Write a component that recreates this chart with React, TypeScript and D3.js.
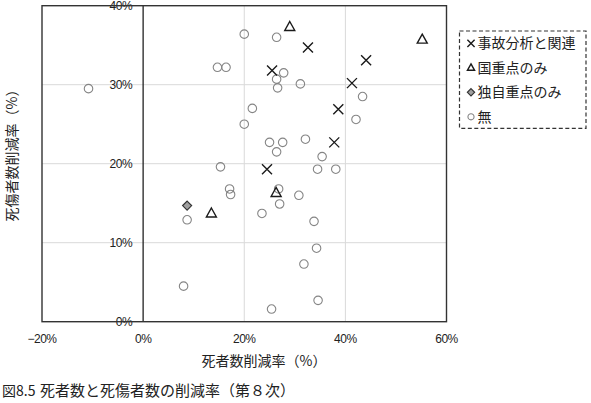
import React from 'react';
import * as d3 from 'd3';

// 死者数削減率 (x) と 死傷者数削減率 (y), %
const accidentPoints: [number, number][] = [
  [32.6, 34.7], [25.5, 31.8], [24.5, 19.3], [37.8, 22.7],
  [44.1, 33.1], [41.3, 30.2], [38.6, 26.9]
];
const nationalPoints: [number, number][] = [
  [29.0, 37.3], [55.2, 35.7], [26.3, 16.3], [13.5, 13.7]
];
const ownPoints: [number, number][] = [[8.7, 14.7]];
const nonePoints: [number, number][] = [
  [-10.8, 29.5], [20.0, 36.4], [26.4, 36.0], [14.7, 32.2], [16.4, 32.2],
  [27.8, 31.5], [26.4, 30.7], [26.6, 29.6], [31.1, 30.1], [21.6, 27.0],
  [20.0, 25.0], [25.0, 22.7], [27.6, 22.7], [26.4, 21.5], [32.1, 23.1],
  [35.4, 20.9], [34.5, 19.3], [38.1, 19.3], [43.4, 28.5], [42.1, 25.6],
  [15.3, 19.6], [17.1, 16.8], [17.3, 16.1], [26.8, 16.8], [27.0, 14.9],
  [30.8, 16.0], [23.5, 13.7], [33.8, 12.7], [34.3, 9.3], [31.8, 7.3],
  [34.6, 2.7], [25.4, 1.6], [8.0, 4.5], [8.7, 12.9]
];
const seriesNames = ['事故分析と関連', '国重点のみ', '独自重点のみ', '無'];
const xTicks = [-20, 0, 20, 40, 60];
const yTicks = [0, 10, 20, 30, 40];

const JP = '"Noto Sans CJK JP", sans-serif';
const NUM = '"Liberation Sans", Arial, sans-serif';

const crossPath = (r: number) => `M${-r},${-r}L${r},${r}M${-r},${r}L${r},${-r}`;
const triPath = (r: number) => `M0,${-r * 1.1}L${r},${r * 0.7}L${-r},${r * 0.7}Z`;
const diamondPath = (r: number) => `M0,${-r}L${r},0L0,${r}L${-r},0Z`;

function Marker({ kind, r }: { kind: number; r: number }) {
  if (kind === 0) return <path d={crossPath(r)} fill="none" stroke="#1a1a1a" strokeWidth={1.4} />;
  if (kind === 1) return <path d={triPath(r)} fill="none" stroke="#1a1a1a" strokeWidth={1.4} />;
  if (kind === 2) return <path d={diamondPath(r)} fill="#a0a0a0" stroke="#333" strokeWidth={1.2} />;
  return <circle r={r * 0.85} fill="none" stroke="#858585" strokeWidth={1.1} />;
}

export default function App() {
  const width = 591, height = 403;
  const x = d3.scaleLinear().domain([-20, 60]).range([42, 446.5]);
  const y = d3.scaleLinear().domain([0, 40]).range([321.7, 5.7]);

  const series = [accidentPoints, nationalPoints, ownPoints, nonePoints];
  const drawOrder = [3, 2, 1, 0];

  return (
    <div style={{ position: 'absolute', left: 0, top: 0 }}>
      <svg width={width} height={height} style={{ display: 'block', background: '#fff' }}>
        {/* grid */}
        {xTicks.filter(t => t !== -20 && t !== 0 && t !== 60).map(t => (
          <line key={'gx' + t} x1={x(t)} x2={x(t)} y1={y(40)} y2={y(0)} stroke="#d9d9d9" strokeWidth={1} />
        ))}
        {yTicks.filter(t => t !== 0 && t !== 40).map(t => (
          <line key={'gy' + t} x1={x(-20)} x2={x(60)} y1={y(t)} y2={y(t)} stroke="#d9d9d9" strokeWidth={1} />
        ))}

        {/* y tick labels, beside the zero axis */}
        {yTicks.map(t => (
          <text key={'yt' + t} x={x(0) - 11} y={y(t)} dy="0.36em" textAnchor="end"
            fontFamily={NUM} fontSize={12} letterSpacing={-0.5} fill="#222">{t + '%'}</text>
        ))}

        {/* zero axis and frame */}
        <line x1={x(0)} x2={x(0)} y1={y(40)} y2={y(0)} stroke="#222" strokeWidth={1.3} />
        <rect x={x(-20)} y={y(40)} width={x(60) - x(-20)} height={y(0) - y(40)}
          fill="none" stroke="#333" strokeWidth={1.4} />

        {/* x tick labels */}
        {xTicks.map(t => (
          <text key={'xt' + t} x={x(t)} y={339} dy="0.36em" textAnchor="middle"
            fontFamily={NUM} fontSize={12} letterSpacing={-0.5} fill="#222">
            {(t < 0 ? '\u2212' + Math.abs(t) : String(t)) + '%'}
          </text>
        ))}

        {/* points */}
        {drawOrder.map(k => (
          <g key={'s' + k}>
            {series[k].map((p, i) => (
              <g key={i} transform={`translate(${x(p[0])},${y(p[1])})`}>
                <Marker kind={k} r={k === 2 ? 4.5 : 5} />
              </g>
            ))}
          </g>
        ))}

        {/* axis titles */}
        <text x={264} y={361} dy="0.36em" textAnchor="middle" fontFamily={JP} fontSize={14} fill="#222">
          死者数削減率（%）
        </text>
        <text transform="translate(12,152) rotate(-90)" dy="0.36em" textAnchor="middle"
          fontFamily={JP} fontSize={14} fill="#222">
          死傷者数削減率（%）
        </text>

        {/* legend */}
        <rect x={459.5} y={31} width={126.5} height={97.3} fill="#fff" stroke="#333"
          strokeWidth={1.2} strokeDasharray="4,2.5" />
        {seriesNames.map((name, i) => (
          <g key={'lg' + i} transform={`translate(471,${43.3 + i * 24.5})`}>
            <Marker kind={i} r={3.6} />
            <text x={6.5} dy="0.36em" fontFamily={JP} fontSize={14} fill="#222">{name}</text>
          </g>
        ))}

        {/* caption */}
        <text x={2} y={391} dy="0.36em" fontFamily={JP} fontSize={14} fill="#222">図8.5</text>
        <text x={40} y={391} dy="0.36em" fontFamily={JP} fontSize={15} fill="#222">死者数と死傷者数の削減率（第８次）</text>
      </svg>
    </div>
  );
}
